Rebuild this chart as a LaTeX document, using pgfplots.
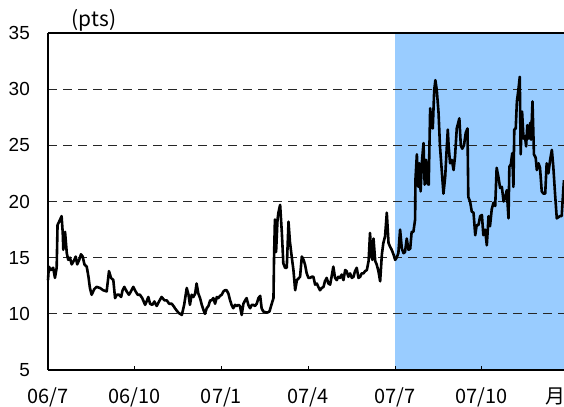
\documentclass[border=0pt]{standalone}
\usepackage{pgfplots}
\pgfplotsset{compat=1.18}
\usepackage{fontspec}
\setmainfont{Liberation Sans}
\newfontfamily\jp{Noto Sans CJK JP}
\usetikzlibrary{calc}
\definecolor{cblue}{HTML}{99CCFF}

\begin{document}
\begin{tikzpicture}
\begin{axis}[
  set layers, scale only axis, width=516bp, height=337bp,
  xmin=0, xmax=17.85, ymin=5, ymax=35, clip=false,
  axis x line=bottom, axis y line=left,
  axis line style={-, line width=2.2bp},
  xtick={0,3,6,9,12,15},
  xticklabels={06/7,06/10,07/1,07/4,07/7,07/10},
  extra x ticks={17.55}, extra x tick labels={月},
  extra x tick style={major tick length=0pt},
  ytick={5,10,...,35},
  ymajorgrids, grid style={black!85, line width=0.9bp, dash pattern=on 9bp off 6bp},
  xtick align=inside, major tick length=4bp,
  x tick style={black, line width=0.6bp}, y tick style={draw=none},
  /pgf/number format/assume math mode=true,
  yticklabel style={font=\fontsize{19}{19}\selectfont, anchor=east, inner sep=0pt, xshift=-16bp},
  xticklabel style={font=\jp\fontsize{20}{20}\selectfont, anchor=base, inner sep=0pt, yshift=-33bp},
]
\begin{pgfonlayer}{axis background}
\fill[cblue] (axis cs:12,5) rectangle (axis cs:17.85,35);
\end{pgfonlayer}
\draw[line width=2.2bp] (rel axis cs:0,1) -- (rel axis cs:1,1);
\coordinate (bl) at (rel axis cs:0,0);
\coordinate (tl) at (rel axis cs:0,1);
\addplot[black, line width=2.6bp, line join=round] coordinates {
(0.00,13.0) (0.03,14.2) (0.10,13.9) (0.18,14.1) (0.24,13.2) (0.30,14.1)
(0.33,17.9) (0.42,18.4) (0.47,18.7) (0.51,17.2) (0.53,15.7) (0.59,17.3)
(0.65,15.4) (0.70,14.8) (0.76,15.0) (0.82,14.4) (0.91,14.8) (0.96,15.1)
(1.01,14.4) (1.08,14.8) (1.14,15.3) (1.20,15.1) (1.26,14.4) (1.34,14.2)
(1.40,13.3) (1.45,12.3) (1.51,11.7) (1.60,12.2) (1.68,12.4) (1.80,12.3)
(1.91,12.1) (2.03,12.0) (2.11,13.8) (2.18,13.2) (2.26,13.0) (2.32,11.4)
(2.38,11.7) (2.46,11.7) (2.53,11.5) (2.58,12.1) (2.64,12.4) (2.72,12.0)
(2.80,11.7) (2.87,12.0) (2.95,12.4) (3.03,12.0) (3.10,11.7) (3.18,11.7)
(3.26,11.4) (3.36,10.8) (3.41,11.1) (3.47,11.5) (3.53,10.9) (3.61,10.8)
(3.68,11.1) (3.76,10.7) (3.84,11.1) (3.93,11.5) (4.03,11.2) (4.11,11.2)
(4.19,10.9) (4.28,10.9) (4.37,10.6)
(4.39,10.5) (4.51,10.1) (4.63,9.9) (4.71,10.8) (4.80,12.3) (4.86,11.7)
(4.91,10.8) (4.97,11.7) (5.03,11.5) (5.09,11.8) (5.14,12.7) (5.20,11.8)
(5.26,11.4) (5.32,10.8) (5.37,10.4) (5.43,10.0) (5.49,10.5) (5.55,10.7)
(5.61,11.2) (5.66,11.2) (5.72,11.4) (5.78,10.9) (5.84,11.5) (5.89,11.4)
(5.95,11.6) (6.01,11.7) (6.07,12.0) (6.12,12.1) (6.18,12.1) (6.24,11.8)
(6.30,11.2) (6.35,10.8) (6.41,10.5) (6.47,10.8) (6.53,10.7) (6.59,10.8)
(6.64,10.7) (6.70,9.9) (6.76,10.9) (6.82,11.2) (6.87,11.4) (6.93,10.8)
(6.99,10.5) (7.05,10.8) (7.10,10.8) (7.16,10.7) (7.22,10.9) (7.28,11.4)
(7.34,11.6) (7.39,10.5) (7.45,10.2) (7.57,10.1) (7.66,10.2) (7.74,10.9)
(7.80,11.4) (7.82,15.1) (7.85,18.4) (7.89,15.5) (7.94,18.4) (7.97,19.0)
(8.03,19.7) (8.09,17.2) (8.14,14.5) (8.20,14.1) (8.26,14.1) (8.32,18.2)
(8.37,16.4) (8.43,15.1) (8.49,13.9) (8.55,12.1) (8.61,13.0) (8.72,13.3)
(8.78,15.1) (8.84,14.8) (8.89,14.4) (8.95,13.6) (9.01,13.2) (9.07,13.2)
(9.12,13.3) (9.18,13.3) (9.24,12.6) (9.30,12.7) (9.35,12.4) (9.41,12.1)
(9.47,12.3) (9.53,12.4) (9.58,12.9) (9.64,13.2) (9.70,12.7) (9.76,12.6)
(9.81,13.3) (9.87,14.2) (9.93,13.2) (9.99,13.0) (10.04,13.3) (10.10,13.2)
(10.16,13.5) (10.22,13.0) (10.28,13.9) (10.33,13.8) (10.39,13.3) (10.45,13.6)
(10.51,13.2) (10.57,13.3) (10.62,13.8) (10.68,14.1) (10.74,13.2) (10.80,13.3)
(10.85,13.6) (10.91,13.6) (10.97,13.8) (11.03,13.9) (11.09,14.7) (11.14,17.2)
(11.18,15.4) (11.22,14.8) (11.26,16.7) (11.32,14.7) (11.37,14.4) (11.43,13.8)
(11.49,12.9) (11.55,15.3) (11.60,16.3) (11.66,16.9) (11.72,19.0) (11.78,16.3)
(11.83,16.0) (11.89,15.7) (11.95,15.3) (12.01,14.8) (12.06,15.0) (12.12,15.4)
(12.18,17.5) (12.24,15.8) (12.30,15.4) (12.35,15.5) (12.41,16.7) (12.47,15.7)
(12.53,15.8) (12.58,17.3) (12.64,17.3) (12.70,18.4)
(12.71,21.9) (12.76,24.2) (12.81,21.3) (12.85,23.4) (12.89,20.9) (12.94,23.7)
(12.99,25.2) (13.03,21.5) (13.08,23.7) (13.13,21.6) (13.17,21.5) (13.22,28.3)
(13.28,26.7) (13.31,26.5) (13.36,29.9) (13.40,30.8) (13.45,29.9) (13.51,27.9)
(13.56,24.9) (13.62,22.8) (13.68,20.7) (13.74,22.2) (13.79,24.6) (13.83,26.4)
(13.86,24.9) (13.91,23.4) (13.97,23.7) (14.03,22.8) (14.08,24.0) (14.14,26.5)
(14.20,27.1) (14.23,27.4) (14.28,25.0) (14.33,24.7) (14.39,25.0) (14.45,26.1)
(14.51,26.5) (14.54,20.4) (14.60,20.0) (14.66,19.1) (14.72,19.0) (14.78,17.0)
(14.83,17.9) (14.89,17.9) (14.95,18.7)
(15.01,18.8) (15.06,17.0) (15.12,17.5) (15.18,16.1) (15.24,18.7) (15.29,17.8)
(15.35,19.3) (15.41,19.9) (15.47,19.6) (15.52,23.0) (15.58,22.2) (15.64,21.2)
(15.70,21.3) (15.76,20.0) (15.81,20.3) (15.87,21.0) (15.93,18.5) (15.96,23.1)
(16.01,23.3) (16.06,24.3) (16.10,21.3) (16.13,26.4) (16.18,26.5) (16.22,28.9)
(16.27,29.9) (16.32,31.1) (16.35,24.2) (16.40,28.0) (16.45,25.6) (16.50,25.8)
(16.54,24.9) (16.58,26.8) (16.63,25.6) (16.68,27.0) (16.71,25.5) (16.76,28.9)
(16.81,24.2) (16.87,23.9) (16.91,22.8) (16.97,23.4) (17.02,23.0) (17.08,20.9)
(17.14,20.7) (17.20,20.7) (17.25,23.4) (17.31,22.5) (17.37,23.7) (17.43,24.6)
(17.48,23.1) (17.54,20.7) (17.60,18.5) (17.71,18.7) (17.77,18.7) (17.83,21.2)
(17.85,21.9)};
\end{axis}
\node[font=\jp\fontsize{21}{21}\selectfont, anchor=center] at ($(tl)+(46bp,13bp)$) {(pts)};
\pgfresetboundingbox
\path ($(bl)+(-48bp,-37bp)$) rectangle ($(bl)+(516bp,370bp)$);
\end{tikzpicture}
\end{document}
